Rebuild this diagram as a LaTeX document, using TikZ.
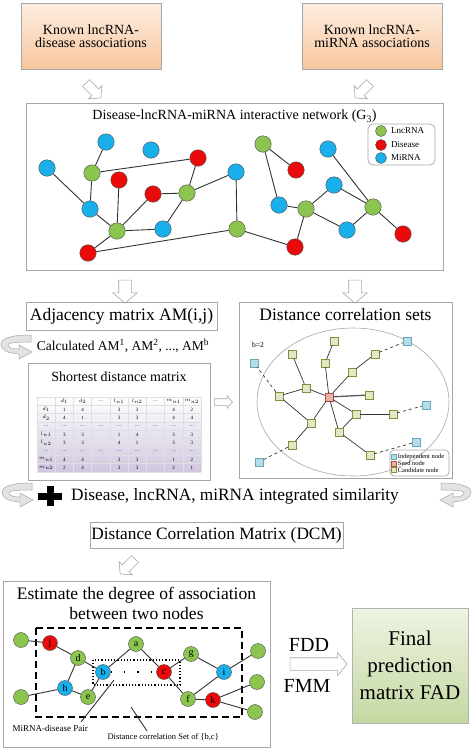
\documentclass[tikz,border=0pt]{standalone}
\usepackage{fontspec}
\setmainfont{Liberation Serif}
\usepackage{tikz}
\usetikzlibrary{calc,positioning,shapes,shapes.arrows,fit}
\newcommand{\myfs}[2]{\fontsize{#1}{#2}\selectfont}
\definecolor{lncgreen}{RGB}{140,196,80}
\definecolor{disred}{RGB}{235,10,10}
\definecolor{mirblue}{RGB}{25,175,235}
\definecolor{peachtop}{RGB}{253,238,226}
\definecolor{peachbot}{RGB}{247,198,158}
\definecolor{candfill}{RGB}{222,234,198}
\definecolor{seedfill}{RGB}{232,178,162}
\definecolor{indfill}{RGB}{178,222,234}
\definecolor{lavender}{RGB}{208,198,224}
\definecolor{finaltop}{RGB}{238,244,226}
\definecolor{finalbot}{RGB}{196,216,162}

\begin{document}
\begin{tikzpicture}[x=1pt,y=-1pt,
  box/.style={draw=gray!70,line width=0.7pt,inner sep=0pt},
  lnc/.style={circle,draw=gray!60!black,line width=0.4pt,fill=lncgreen,minimum size=16.5pt,inner sep=0pt},
  dis/.style={lnc,fill=disred},
  mir/.style={lnc,fill=mirblue},
  link/.style={line width=0.9pt,black!80},
  cand/.style={rectangle,draw=olive!60!gray,fill=candfill,minimum size=8pt,inner sep=0pt,line width=0.4pt},
  seed/.style={cand,fill=seedfill,draw=red!40!gray},
  indep/.style={cand,fill=indfill,draw=cyan!40!gray},
  hollow/.style={single arrow,draw=gray!70,fill=white,line width=0.6pt,inner xsep=0pt,single arrow tip angle=100},
  pics/uturn/.style={code={
    \draw[gray!70,fill=gray!22,line width=0.5pt] (30,-12) .. controls (8,-12) and (0,-8) .. (0,-3)
      .. controls (0,3) and (6,6) .. (18,7) -- (18,12) -- (31,5) -- (18,-2) -- (18,2)
      .. controls (10,2) and (7,0) .. (7,-2) .. controls (7,-4) and (12,-5) .. (30,-5) -- cycle;}}]
  \useasboundingbox (0,0) rectangle (472,750);

  \node[box,top color=peachtop,bottom color=peachbot,minimum width=140pt,minimum height=66pt,align=center,font=\myfs{14}{13}] (kld) at (91,36) {Known lncRNA-\\disease associations};
  \node[box,top color=peachtop,bottom color=peachbot,minimum width=140pt,minimum height=66pt,align=center,font=\myfs{14}{13}] (klm) at (372,36) {Known lncRNA-\\miRNA associations};
  \node[hollow,minimum height=21pt,inner ysep=4.5pt,single arrow head extend=4.5pt,rotate=-45] (a1) at (92,89) {};
  \node[hollow,minimum height=21pt,inner ysep=4.5pt,single arrow head extend=4.5pt,rotate=-135] (a2) at (364,89) {};

  \node[box,minimum width=417pt,minimum height=167pt] (net) at (234.5,186.5) {};
  \node[below=4pt of net.north,font=\myfs{14}{16}] (nett) {Disease-lncRNA-miRNA interactive network (G\textsubscript{3})};
  \node[box,rounded corners=5pt,minimum width=67pt,minimum height=41pt] (leg) at (401.5,144.5) {};
  \foreach \s/\t/\y [count=\k] in {lnc/LncRNA/131,dis/Disease/145,mir/MiRNA/158}{
    \node[\s,minimum size=11pt] (lg\k) at (381,\y) {};
    \node[right=1pt of lg\k,font=\myfs{9}{10}] (lgt\k) {\t};}
  \foreach \n/\x/\y in {mi1/106/142,mi2/151/150,mi3/47/168,mi4/236/172,mi5/90/209,mi6/163/229,mi7/328/149,mi8/334/185,mi9/279/205,mi10/347/230}
    \node[mir] (\n) at (\x,\y) {};
  \foreach \n/\x/\y in {ln1/92/173,ln2/187/193,ln3/117/231,ln4/237/229,ln5/263/144,ln6/306/209,ln7/373/207}
    \node[lnc] (\n) at (\x,\y) {};
  \foreach \n/\x/\y in {ds1/198/158,ds2/119/180,ds3/153/194,ds4/88/253,ds5/296/170,ds6/295/247,ds7/403/234}
    \node[dis] (\n) at (\x,\y) {};
  \foreach \a/\b in {mi1/ln1,ln1/ds1,ln1/mi5,mi3/mi5,mi5/ln3,ds2/ln3,ds3/ln3,ln3/mi6,ln3/ds4,ds4/ln4,mi6/ln2,ds3/ln2,ln2/ds1,ln2/mi4,mi4/ln4,ln4/ds6,ds6/ln6,ln5/ds5,ln5/mi9,mi9/ln6,ln6/mi8,ln6/mi10,mi10/ln7,mi7/ln7,mi8/ln7,ln7/ds7}
    \draw[link] (\a) -- (\b);

  \node[hollow,minimum height=23pt,inner ysep=6pt,single arrow head extend=6pt,rotate=-90] (a3) at (125,289) {};
  \node[hollow,minimum height=23pt,inner ysep=6pt,single arrow head extend=6pt,rotate=-90] (a4) at (355,289) {};

  \node[box,minimum width=191pt,minimum height=28pt,font=\myfs{17.5}{20}] (adj) at (121.5,316) {Adjacency matrix AM(i,j)};
  \node[font=\myfs{13.5}{16}] (calc) at (123,346) {Calculated AM\textsuperscript{1}, AM\textsuperscript{2}, ..., AM\textsuperscript{b}};
  \pic at (1,347) {uturn};

  \node[box,minimum width=182pt,minimum height=117pt] (sdm) at (119,421.5) {};
  \node[below=6pt of sdm.north,font=\myfs{14}{16}] (sdmt) {Shortest distance matrix};
  \shade[top color=white,bottom color=lavender] (37,397) rectangle (201,472);
  \foreach \i in {0,...,9} \draw[gray!25,line width=0.5pt] (37,397+8.33*\i) -- (201,397+8.33*\i);
  \foreach \i in {0,...,9} \draw[gray!25,line width=0.5pt] (37+18.22*\i,397) -- (37+18.22*\i,472);
  \foreach \lab [count=\c] in {,$d_1$,$d_2$,\ldots,$l_{n1}$,$l_{n2}$,\ldots,$m_{n1}$,$m_{n2}$}
    \node[font=\myfs{5}{6}] (h\c) at (27.9+18.22*\c,401.2) {\lab};
  \foreach \lab/\vals [count=\r from 2] in {
      {$d_1$}/{1,4,,3,3,,4,2},
      {$d_2$}/{4,1,,3,3,,4,4},
      {\ldots}/{\ldots,\ldots,\ldots,\ldots,\ldots,\ldots,\ldots,\ldots},
      {$l_{n1}$}/{3,3,,1,4,,3,3},
      {$l_{n2}$}/{3,3,,4,1,,3,3},
      {\ldots}/{\ldots,\ldots,\ldots,\ldots,\ldots,\ldots,\ldots,\ldots},
      {$m_{n1}$}/{4,4,,3,3,,1,2},
      {$m_{n2}$}/{2,4,,3,3,,2,1}}{
    \node[font=\myfs{5}{6}] (r\r) at (46.1,392.8+8.33*\r) {\lab};
    \foreach \v [count=\c from 2] in \vals
      \node[font=\myfs{5}{6}] (t\r-\c) at (27.9+18.22*\c,392.8+8.33*\r) {\v};}
  \node[hollow,minimum height=18pt,inner ysep=3pt,single arrow head extend=3pt] (a5) at (222,402) {};

  \node[box,minimum width=213pt,minimum height=176pt] (dcs) at (345.5,390) {};
  \node[below=3pt of dcs.north,font=\myfs{17.5}{20}] (dcst) {Distance correlation sets};
  \draw[gray!70,line width=0.6pt] (353,402) ellipse [x radius=96pt,y radius=74pt];
  \node[font=\myfs{7.5}{9}] (bval) at (258,345) {b=2};
  \node[seed] (sd) at (329,397) {};
  \foreach \n/\x/\y in {c1/334/341,c2/292/354,c3/375/354,c4/325/363,c5/352/372,c6/306/388,c7/279/396,c8/369/395,c9/356/414,c10/393/414,c11/311/423,c12/339/432,c13/292/445,c14/370/455}
    \node[cand] (\n) at (\x,\y) {};
  \foreach \n/\x/\y in {i1/407/341,i2/254/363,i3/426/405,i4/416/442,i5/259/462}
    \node[indep] (\n) at (\x,\y) {};
  \foreach \a/\b in {c1/c4,c4/sd,c2/c6,c6/sd,c6/c7,c7/c11,sd/c11,c11/c13,sd/c5,c5/c3,sd/c9,c9/c10,sd/c12,c12/c9,c12/c14}
    \draw[link,line width=0.7pt] (\a) -- (\b);
  \draw[gray!70!black,line width=1.3pt] (sd) -- (c8);
  \foreach \a/\b in {c3/i1,c7/i2,c10/i3,c14/i4,c13/i5}
    \draw[link,line width=0.7pt,dashed] (\a) -- (\b);
  \node[box,rounded corners=4pt,minimum width=59pt,minimum height=26pt] (dleg) at (419.5,463) {};
  \foreach \s/\t/\y [count=\k] in {indep/Independent node/457,seed/Seed node/463.5,cand/Candidate node/470}{
    \node[\s,minimum size=5pt] (dl\k) at (394,\y) {};
    \node[right=0.5pt of dl\k,font=\myfs{6.5}{7},inner sep=0.5pt] (dlt\k) {\t};}

  \pic at (2,495) {uturn};
  \pic[xscale=-1] at (471,495) {uturn};
  \fill (38,492.5) rectangle (62,499.5);
  \fill (46.5,486) rectangle (53.5,506);
  \node[font=\myfs{17.3}{20}] (sim) at (235,496) {Disease, lncRNA, miRNA integrated similarity};

  \node[box,minimum width=253pt,minimum height=26pt,font=\myfs{17.3}{20}] (dcm) at (216.5,535) {Distance Correlation Matrix (DCM)};
  \node[hollow,minimum height=21pt,inner ysep=4.5pt,single arrow head extend=4.5pt,rotate=-135] (a6) at (129,565) {};

  \node[box,minimum width=267pt,minimum height=166pt] (est) at (136.5,664) {};
  \node[below=3pt of est.north,align=center,font=\myfs{17.5}{20}] (estt) {Estimate the degree of association\\between two nodes};
  \draw[line width=1.2pt,dash pattern=on 7pt off 4pt] (36,628) rectangle (242,717);
  \draw[line width=1.2pt,dotted] (93,660) rectangle (180,685);
  \foreach \n/\x/\y in {lt/21/640,lb/21/697,rt/258/651,rm/257/682,rb/255/712}
    \node[lnc,minimum size=15pt] (\n) at (\x,\y) {};
  \foreach \n/\s/\x/\y in {j/dis/50/643,d/lnc/78/658,h/mir/65/688,e/lnc/88/697,b/mir/103/672,a/lnc/136/644,c/dis/164/672,g/lnc/191/654,f/lnc/188/699,k/dis/213/700,i/mir/224/672}
    \node[\s,minimum size=15pt,font=\myfs{10}{11}] (\n) at (\x,\y) {\n};
  \foreach \a/\b in {lt/j,j/d,d/h,h/lb,h/e,e/b,d/b,b/a,a/c,c/g,g/i,i/rt,c/f,f/k,f/i,k/rm,k/rb}
    \draw[link] (\a) -- (\b);
  \draw[line width=1.3pt,dash pattern=on 1.3pt off 12pt] (b) -- (c);
  \node[anchor=west,font=\myfs{9}{10}] (pair) at (9,728) {MiRNA-disease Pair};
  \node[anchor=west,font=\myfs{8.5}{10}] (dset) at (104,737) {Distance correlation Set of \{b,c\}};
  \coordinate (pairfoot) at (81,722);
  \coordinate (pairtip) at (114,680);
  \coordinate (dsetfoot) at (147,731);
  \coordinate (dsettip) at (131,707);
  \draw[link] (pairfoot) -- (pairtip);
  \draw[link] (dsetfoot) -- (dsettip);

  \node[hollow,minimum height=57pt,inner ysep=6pt,single arrow head extend=5pt] (a7) at (316,664) {};
  \node[font=\myfs{20}{22}] (fdd) at (309,645) {FDD};
  \node[font=\myfs{20}{22}] (fmm) at (307,686) {FMM};
  \node[box,draw=gray!60,top color=finaltop,bottom color=finalbot,minimum width=116pt,minimum height=115pt,align=center,font=\myfs{21}{27}] (fin) at (410,665.5) {Final\\prediction\\matrix FAD};
\end{tikzpicture}
\end{document}
